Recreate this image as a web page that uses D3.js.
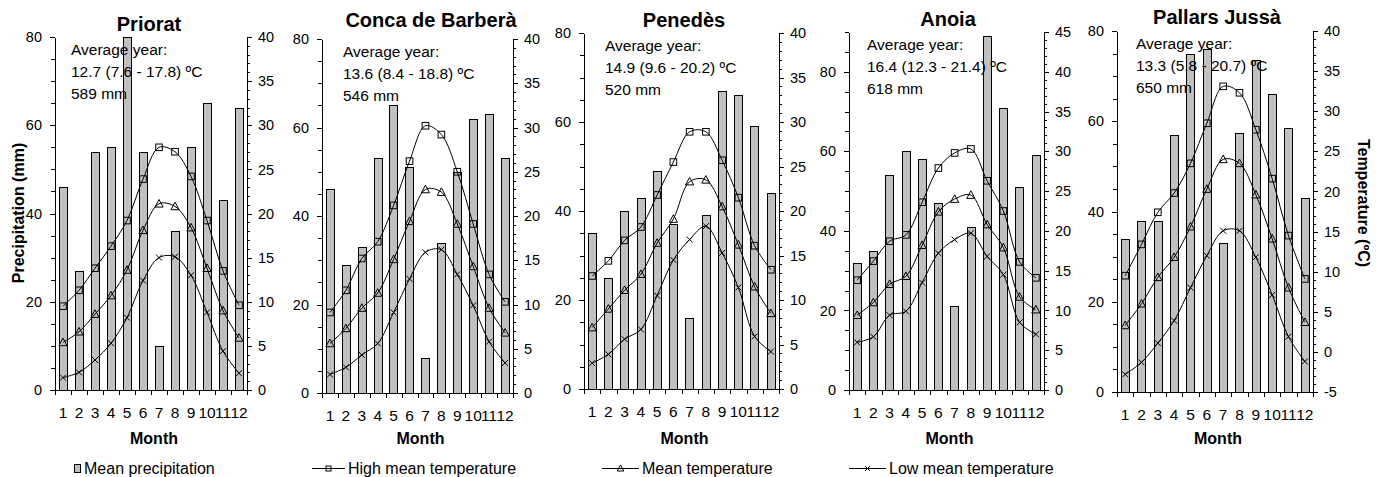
<!DOCTYPE html>
<head>
  <meta charset="utf-8">
  <script src="https://d3js.org/d3.v7.min.js"></script>
  <style>
    body { margin: 0; background: #fff; }
    svg text { font-family: Arial, "Liberation Sans", sans-serif; fill: #000; }
    .title { font-size: 20px; font-weight: bold; text-anchor: middle; }
    .note { font-size: 15.5px; }
    .axis text { font-size: 14.5px; font-family: Arial, "Liberation Sans", sans-serif; }
    .months text { font-size: 15.5px; }
    .axis path, .axis line { stroke: #000; shape-rendering: crispEdges; }
    .bar { fill: #c0c0c0; stroke: #000; stroke-width: 1; shape-rendering: crispEdges; }
    .line { fill: none; stroke: #000; stroke-width: 1; }
    .marker { fill: none; stroke: #000; stroke-width: 1; }
    .axlabel { font-size: 16px; font-weight: bold; text-anchor: middle; }
    .legend text { font-size: 16px; }
  </style>
</head>
<body>
<div id="chart"></div>

<script>
var months = [1, 2, 3, 4, 5, 6, 7, 8, 9, 10, 11, 12];
var regions = ["Priorat", "Conca de Barberà", "Penedès", "Anoia", "Pallars Jussà"];

var notes = [
  ["Average year:", "12.7 (7.6 - 17.8) ºC", "589 mm"],
  ["Average year:", "13.6 (8.4 - 18.8) ºC", "546 mm"],
  ["Average year:", "14.9 (9.6 - 20.2) ºC", "520 mm"],
  ["Average year:", "16.4 (12.3 - 21.4) ºC", "618 mm"],
  ["Average year:", "13.3 (5.8 - 20.7) ºC", "650 mm"]
];

// Priorat
var precPriorat = [46, 27, 54, 55, 80, 54, 10, 36, 55, 65, 43, 64];
var highPriorat = [9.5, 11.3, 13.8, 16.3, 19.2, 23.9, 27.5, 27.0, 24.2, 19.2, 13.5, 9.6];
var meanPriorat = [5.4, 6.6, 8.6, 10.7, 13.6, 18.1, 21.1, 20.8, 18.4, 13.8, 9.0, 5.9];
var lowPriorat  = [1.4, 2.0, 3.4, 5.3, 8.2, 12.4, 15.0, 15.1, 13.0, 8.8, 4.4, 1.9];

// Conca de Barbera
var precConca = [46, 29, 33, 53, 65, 51, 8, 34, 50, 62, 63, 53];
var highConca = [9.1, 11.6, 15.2, 17.1, 21.2, 26.2, 30.2, 29.2, 25.0, 19.1, 13.4, 10.3];
var meanConca = [5.6, 7.3, 9.6, 11.3, 15.1, 19.4, 23.0, 22.7, 19.1, 14.3, 9.6, 6.8];
var lowConca  = [2.1, 2.9, 4.3, 5.6, 9.1, 12.9, 15.9, 16.2, 13.4, 9.9, 5.8, 3.4];

// Penedes
var precPenedes = [35, 25, 40, 43, 49, 37, 16, 39, 67, 66, 59, 44];
var highPenedes = [12.7, 14.4, 16.7, 18.2, 21.8, 25.5, 28.9, 28.9, 25.7, 21.5, 16.1, 13.4];
var meanPenedes = [6.9, 9.0, 11.1, 12.9, 16.4, 19.1, 23.3, 23.5, 20.5, 16.2, 11.5, 8.5];
var lowPenedes  = [2.9, 3.9, 5.6, 6.7, 10.5, 14.5, 16.8, 18.3, 15.3, 11.4, 5.9, 4.2];

// Anoia
var precAnoia = [32, 35, 54, 60, 58, 47, 21, 41, 89, 71, 51, 59];
var highAnoia = [13.8, 16.2, 18.7, 19.5, 23.6, 27.9, 29.8, 30.3, 26.3, 22.5, 16.1, 14.1];
var meanAnoia = [9.4, 11.0, 13.3, 14.3, 18.2, 22.4, 24.0, 24.5, 20.8, 17.9, 11.7, 10.1];
var lowAnoia  = [6.0, 6.7, 9.4, 9.9, 13.5, 17.2, 18.9, 19.7, 16.8, 14.5, 8.5, 7.0];

// Pallars Jussa
var precPallars = [34, 38, 38, 57, 75, 76, 33, 57.5, 73.5, 66, 58.5, 43];
var highPallars = [9.5, 13.4, 17.4, 19.8, 23.5, 28.5, 33.1, 32.3, 27.7, 21.6, 14.5, 9.1];
var meanPallars = [3.3, 6.0, 9.3, 11.8, 15.6, 20.3, 24.0, 23.5, 19.6, 14.1, 8.0, 3.7];
var lowPallars  = [-2.8, -1.3, 1.1, 3.9, 8.0, 12.0, 15.1, 15.1, 11.8, 7.1, 1.9, -1.2];

var series = [
  {prec: precPriorat, high: highPriorat, mean: meanPriorat, low: lowPriorat},
  {prec: precConca, high: highConca, mean: meanConca, low: lowConca},
  {prec: precPenedes, high: highPenedes, mean: meanPenedes, low: lowPenedes},
  {prec: precAnoia, high: highAnoia, mean: meanAnoia, low: lowAnoia},
  {prec: precPallars, high: highPallars, mean: meanPallars, low: lowPallars}
];

// axis extents per panel
var precMax = [80, 80, 80, 90, 80];
var tempExtent = [[0, 40], [0, 40], [0, 40], [0, 45], [-5, 40]];

// where each panel sits on the page
var layout = [
  {x0: 55,   x1: 247,  y0: 37, y1: 390, titleX: 149,  titleY: 31, noteX: 71},
  {x0: 322,  x1: 513,  y0: 39, y1: 393, titleX: 431,  titleY: 27, noteX: 343},
  {x0: 584,  x1: 779,  y0: 33, y1: 389, titleX: 684,  titleY: 27, noteX: 605},
  {x0: 849,  x1: 1044, y0: 32, y1: 390, titleX: 948,  titleY: 26, noteX: 867},
  {x0: 1117, x1: 1313, y0: 31, y1: 392, titleX: 1217, titleY: 24, noteX: 1136}
];

var svg = d3.select("#chart").append("svg")
    .attr("width", 1381)
    .attr("height", 477);

//====| markers |=====\\
function drawMarker(g, kind, cx, cy, s) {
  if (kind === "high") {
    g.append("rect").attr("class", "marker")
      .attr("x", cx - s).attr("y", cy - s)
      .attr("width", 2 * s).attr("height", 2 * s);
  } else if (kind === "mean") {
    g.append("path").attr("class", "marker")
      .attr("d", "M" + cx + "," + (cy - s - 1) + "L" + (cx + s + 0.8) + "," + (cy + s) +
                 "L" + (cx - s - 0.8) + "," + (cy + s) + "Z");
  } else {
    g.append("path").attr("class", "marker")
      .attr("d", "M" + (cx - s) + "," + (cy - s) + "L" + (cx + s) + "," + (cy + s) +
                 "M" + (cx - s) + "," + (cy + s) + "L" + (cx + s) + "," + (cy - s));
  }
}

layout.forEach(function(L, p) {
  var data = series[p];
  var g = svg.append("g");

  var x = d3.scaleBand().domain(months).range([L.x0, L.x1])
      .paddingInner(0.48).paddingOuter(0.24);
  var xb = d3.scaleLinear().domain([0, 12]).range([L.x0, L.x1]);
  var yP = d3.scaleLinear().domain([0, precMax[p]]).range([L.y1, L.y0]);
  var yT = d3.scaleLinear().domain(tempExtent[p]).range([L.y1, L.y0]);
  var cx = function(i) { return x(months[i]) + x.bandwidth() / 2; };

  // bars
  g.selectAll(".bar")
      .data(data.prec)
    .enter().append("rect")
      .attr("class", "bar")
      .attr("x", function(d, i) { return Math.round(x(months[i])) + 0.5; })
      .attr("width", Math.round(x.bandwidth()))
      .attr("y", function(d) { return Math.round(yP(d)) + 0.5; })
      .attr("height", function(d) { return Math.round(yP(0)) - Math.round(yP(d)); });

  // temperature lines
  var line = d3.line()
      .x(function(d, i) { return cx(i); })
      .y(function(d) { return yT(d); })
      .curve(d3.curveCatmullRom.alpha(0.5));

  ["high", "mean", "low"].forEach(function(k) {
    g.append("path").datum(data[k]).attr("class", "line").attr("d", line);
    data[k].forEach(function(v, i) {
      drawMarker(g, k, cx(i), yT(v), k === "low" ? 3 : 3.3);
    });
  });

  // axes
  g.append("g").attr("class", "axis")
      .attr("transform", "translate(" + L.x0 + ",0)")
      .call(d3.axisLeft(yP).tickValues(d3.range(0, precMax[p] + 0.01, 5))
        .tickSize(4).tickFormat("").tickSizeOuter(0));
  g.append("g").attr("class", "axis")
      .attr("transform", "translate(" + L.x0 + ",0)")
      .call(d3.axisLeft(yP).tickValues(d3.range(0, 80.01, 20))
        .tickSize(5).tickPadding(8).tickSizeOuter(0));

  g.append("g").attr("class", "axis")
      .attr("transform", "translate(" + L.x1 + ",0)")
      .call(d3.axisRight(yT).tickValues(d3.range(tempExtent[p][0], tempExtent[p][1] + 0.01, 1))
        .tickSize(3).tickFormat("").tickSizeOuter(0));
  g.append("g").attr("class", "axis")
      .attr("transform", "translate(" + L.x1 + ",0)")
      .call(d3.axisRight(yT).tickValues(d3.range(tempExtent[p][0], tempExtent[p][1] + 0.01, 5))
        .tickSize(5).tickPadding(6).tickSizeOuter(0)
        .tickFormat(function(d) { return String(d); }));

  g.append("g").attr("class", "axis")
      .attr("transform", "translate(0," + L.y1 + ")")
      .call(d3.axisBottom(xb).tickValues(d3.range(13))
        .tickSize(5).tickFormat("").tickSizeOuter(0));
  var mx = g.append("g").attr("class", "axis months")
      .attr("transform", "translate(0," + L.y1 + ")")
      .call(d3.axisBottom(x).tickSize(0).tickPadding(17));
  mx.select(".domain").remove();

  svg.selectAll(".axis").attr("font-family", null).attr("font-size", null);

  // title, note, x label
  g.append("text").attr("class", "title")
      .attr("x", L.titleX).attr("y", L.titleY)
      .text(regions[p]);

  notes[p].forEach(function(t, i) {
    g.append("text").attr("class", "note")
        .attr("x", L.noteX).attr("y", L.y0 + 18 + i * 22)
        .text(t);
  });

  g.append("text").attr("class", "axlabel")
      .attr("x", (L.x0 + L.x1) / 2 + 3).attr("y", 444)
      .text("Month");
});

// y labels
svg.append("text").attr("class", "axlabel")
    .attr("transform", "translate(24,213) rotate(-90)")
    .text("Precipitation (mm)");
svg.append("text").attr("class", "axlabel")
    .attr("transform", "translate(1358,203) rotate(90)")
    .text("Temperature (ºC)");

//====| legend |=====\\
var legend = svg.append("g").attr("class", "legend");
var ly = 468;

legend.append("rect").attr("class", "bar")
    .attr("x", 74.5).attr("y", ly - 3.5).attr("width", 6).attr("height", 8);
legend.append("text").attr("x", 84).attr("y", ly + 6).text("Mean precipitation");

var legendItems = [
  {key: "high", x1: 312, x2: 345, label: "High mean temperature"},
  {key: "mean", x1: 602, x2: 639, label: "Mean temperature"},
  {key: "low",  x1: 849, x2: 886, label: "Low mean temperature"}
];
legendItems.forEach(function(d) {
  legend.append("line").attr("class", "line")
      .attr("x1", d.x1).attr("x2", d.x2).attr("y1", ly + 0.5).attr("y2", ly + 0.5);
  drawMarker(legend, d.key, (d.x1 + d.x2) / 2, ly + 0.5, 2.5);
  legend.append("text").attr("x", d.x2 + 3).attr("y", ly + 6).text(d.label);
});
</script>
</body>
